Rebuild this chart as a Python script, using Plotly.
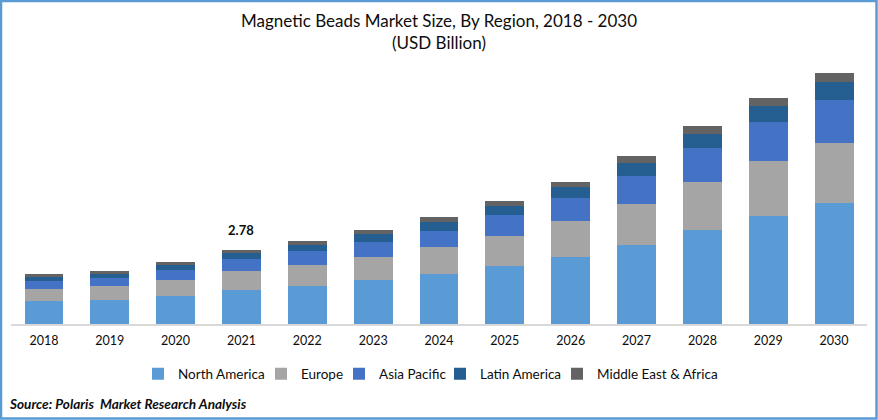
import plotly.graph_objects as go

# chart data (USD Billion)
years = ['2018', '2019', '2020', '2021', '2022', '2023', '2024',
         '2025', '2026', '2027', '2028', '2029', '2030']
north_america = [0.86, 0.90, 1.05, 1.28, 1.43, 1.65, 1.88, 2.18, 2.52, 2.97, 3.53, 4.06, 4.55]
europe = [0.45, 0.53, 0.60, 0.71, 0.79, 0.86, 1.01, 1.13, 1.35, 1.54, 1.80, 2.07, 2.25]
asia_pacific = [0.30, 0.30, 0.38, 0.45, 0.53, 0.56, 0.60, 0.79, 0.86, 1.05, 1.28, 1.47, 1.62]
latin_america = [0.15, 0.15, 0.19, 0.23, 0.23, 0.30, 0.34, 0.34, 0.41, 0.49, 0.53, 0.60, 0.68]
middle_east = [0.11, 0.11, 0.11, 0.11, 0.15, 0.15, 0.19, 0.19, 0.19, 0.26, 0.30, 0.30, 0.34]

font_name = 'Lato'
text_color = '#0d0d0d'
frame_color = '#5b9bd5'

# plot area in pixels, used for the frame and the text below the chart
W, H = 878, 420
left, right, top, bottom = 11, 867, 60, 324


def px(x):
    return (x - left) / (right - left)


def py(y):
    return (bottom - y) / (bottom - top)


# name, colour, legend entry width
regions = [
    ('North America', north_america, '#5b9bd5', 78),
    ('Europe', europe, '#a5a5a5', 33),
    ('Asia Pacific', asia_pacific, '#4472c4', 56),
    ('Latin America', latin_america, '#255e91', 72),
    ('Middle East & Africa', middle_east, '#636363', 125),
]

data = []
for name, values, color, entry in regions:
    data.append(go.Bar(x=years, y=values, name=name, marker=dict(color=color, line=dict(width=0)),
                       legendwidth=entry))

label_2021 = sum(v[years.index('2021')] for _, v, _, _ in regions)

layout = go.Layout(
    width=W,
    height=H,
    barmode='stack',
    bargap=0.41,
    margin=dict(l=left, r=W - right, t=top, b=H - bottom, autoexpand=False),
    paper_bgcolor='white',
    plot_bgcolor='white',
    showlegend=True,
    font=dict(family=font_name, color=text_color),
    title=dict(
        text='Magnetic Beads Market Size, By Region, 2018 - 2030<br>(USD Billion)',
        font=dict(size=17, family=font_name, color=text_color),
        x=0.5, xanchor='center', y=1 - 27 / H, yanchor='middle',
    ),
    xaxis=dict(type='category', categoryarray=years, range=[-0.5, 12.5],
               showline=True, linecolor='#d9d9d9', linewidth=1.5,
               ticks='', ticklabelstandoff=4, tickfont=dict(size=12.5), fixedrange=True),
    yaxis=dict(range=[0, 9.92], visible=False, showgrid=False, zeroline=False),
    legend=dict(orientation='h', x=px(138), xanchor='left', y=py(374), yanchor='middle',
                font=dict(size=13.5), traceorder='normal', bgcolor='rgba(0,0,0,0)'),
    annotations=[
        dict(x=years.index('2021'), y=label_2021, text='<b>%.2f</b>' % label_2021,
             showarrow=False, yshift=20, font=dict(size=13)),
        dict(xref='paper', yref='paper', x=px(7), y=py(404), xanchor='left', yanchor='middle',
             text='<b><i>Source: Polaris  Market Research Analysis</i></b>', showarrow=False, font=dict(size=13.6)),
    ],
    shapes=[
        dict(type='rect', xref='paper', yref='paper', x0=px(1), x1=px(876.5), y0=py(1), y1=py(418.5),
             line=dict(color=frame_color, width=2.5)),
    ],
)

fig = go.Figure(data=data, layout=layout)
fig.write_html('out.html', config=dict(displayModeBar=False), post_script="document.body.style.margin='0';")
